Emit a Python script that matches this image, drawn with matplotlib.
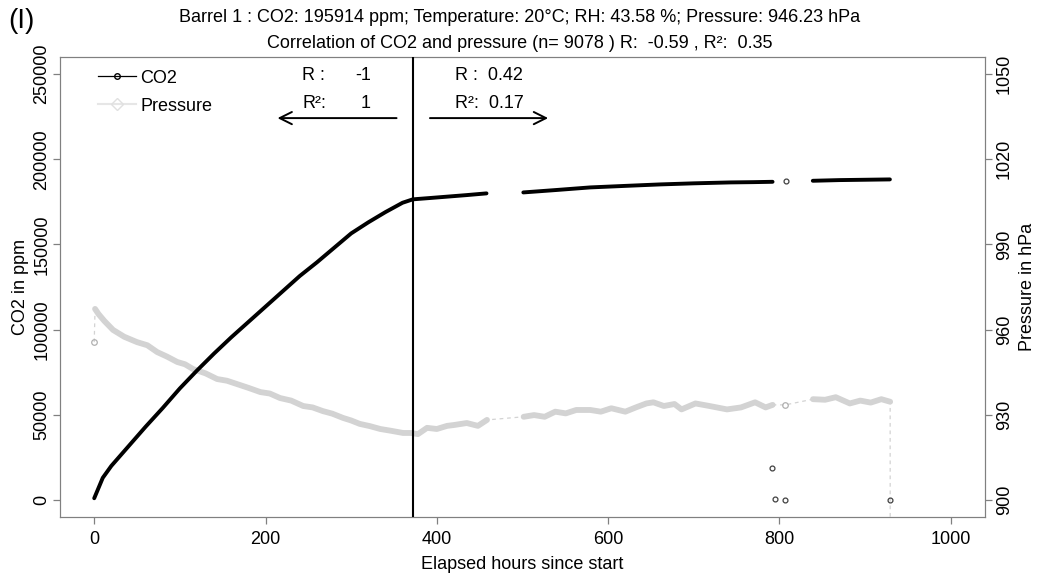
import matplotlib
matplotlib.use("Agg")
import matplotlib.pyplot as plt
import numpy as np
from matplotlib.lines import Line2D

plt.rcParams["font.family"] = ["Liberation Sans", "DejaVu Sans"]

# CO2 logger (hours since start, ppm); NaN marks logging gaps
co2_hours = [0, 10, 20, 40, 60, 80, 100, 120, 140, 160, 180, 200, 220, 240, 260,
             280, 300, 320, 340, 360, 372, 390, 410, 435, 458,
             np.nan,
             501, 540, 579, 620, 661, 700, 743, 770, 792,
             np.nan,
             839, 870, 900, 929]
co2_ppm = [1000, 13000, 20000, 31500, 43000, 54000, 65500, 76000, 86000, 95500,
           104500, 113500, 122500, 131500, 139500, 148000, 156500, 163000, 169000,
           174500, 176500, 177200, 178000, 179000, 180000,
           np.nan,
           180560, 182000, 183500, 184400, 185270, 185900, 186440, 186600, 186800,
           np.nan,
           187400, 187800, 188000, 188200]

# isolated CO2 readings
co2_stray_hours = [791, 795, 807.5, 807, 929]
co2_stray_ppm = [19000, 800, 187400, 0, 0]

# pressure (hours since start, hPa); NaN marks gaps (bridged by a dashed line)
pressure_hours = [0,
                  np.nan,
                  1, 5, 12, 22, 35, 50, 62, 73.5, 85, 97, 106, 115.5, 130, 143.5,
                  155, 167, 180, 194, 205, 217, 230, 244, 255, 267, 278, 290.5,
                  300, 310, 322, 334, 346, 360.6, 370, 378, 388.6, 400, 412, 420,
                  435, 448, 458.6,
                  np.nan,
                  501.4, 513.6, 525.9, 538.3, 550.5, 562.8, 579.2, 591.5, 603.7,
                  620.1, 632.4, 644.7, 652.9, 665.1, 677.5, 685.7, 702.0, 718.3,
                  738.8, 755.2, 771.6, 783.9, 792.1,
                  np.nan,
                  807,
                  np.nan,
                  839.2, 853.4, 865.8, 882.2, 894.4, 906.6, 919.0, 929.3,
                  np.nan,
                  930]
pressure_hpa = [955.6,
                np.nan,
                967.3, 965.5, 963.0, 959.9, 957.5, 955.6, 954.5, 952.1, 950.5,
                948.6, 947.8, 946.1, 944.6, 942.6, 942.0, 940.8, 939.5, 938.0,
                937.5, 935.9, 935.0, 933.1, 932.6, 931.3, 930.4, 928.9, 928.0,
                926.8, 926.0, 925.0, 924.4, 923.6, 923.6, 923.2, 925.4, 925.0,
                926.1, 926.4, 927.1, 926.1, 928.2,
                np.nan,
                929.3, 929.9, 929.3, 931.1, 930.5, 931.7, 931.7, 931.1, 932.3,
                931.1, 932.6, 934.0, 934.4, 933.1, 933.8, 931.9, 934.0, 933.1,
                931.9, 932.6, 934.4, 932.6, 933.5,
                np.nan,
                933.5,
                np.nan,
                935.5, 935.3, 936.2, 934.0, 935.0, 934.3, 935.5, 934.6,
                np.nan,
                0]

split_hour = 372
r_left = ("-1", "1")
r_right = ("0.42", "0.17")
title_lines = [
    "Barrel 1 : CO2: 195914 ppm; Temperature: 20°C; RH: 43.58 %; Pressure: 946.23 hPa",
    "Correlation of CO2 and pressure (n= 9078 ) R:  -0.59 , R²:  0.35",
]

FS = 13
PGRAY = "#d3d3d3"
AXGRAY = "#808080"

fig = plt.figure(figsize=(10.39, 5.77), dpi=100)
ax = fig.add_axes([0.0577, 0.104, 0.8903, 0.797])
ax2 = ax.twinx()

# pressure: dashed bridge through everything, thick trace on continuous runs
ph = np.array(pressure_hours, dtype=float)
pv = np.array(pressure_hpa, dtype=float)
ok = ~np.isnan(ph)
ax2.plot(ph[ok], pv[ok], color=PGRAY, lw=0.9, ls=(0, (3, 3)), zorder=1)
ax2.plot(ph, pv, color=PGRAY, lw=4.2, solid_capstyle="round", zorder=2)
for i in range(len(ph)):
    if ok[i]:
        prev_nan = i == 0 or not ok[i - 1]
        next_nan = i == len(ph) - 1 or not ok[i + 1]
        if prev_nan and next_nan:
            ax2.plot(ph[i], pv[i], "o", ms=4, mfc="none", mec="#b0b0b0", mew=0.9)
ax2.set_ylim(894, 1056)

# CO2
ax.plot(co2_hours, co2_ppm, color="black", lw=2.8, solid_capstyle="round", zorder=3)
ax.plot(co2_stray_hours, co2_stray_ppm, "o", ms=3.5, mfc="none", mec="#404040",
        mew=0.9, zorder=3)
ax.set_zorder(ax2.get_zorder() + 1)
ax.patch.set_visible(False)

ax.axvline(split_hour, color="black", lw=1.5, zorder=4)

ax.set_xlim(-40, 1040)
ax.set_ylim(-10000, 260000)
ax.set_xticks([0, 200, 400, 600, 800, 1000])
ax.set_yticks([0, 50000, 100000, 150000, 200000, 250000])
ax2.set_yticks([900, 930, 960, 990, 1020, 1050])

for a in (ax, ax2):
    for s in a.spines.values():
        s.set_color(AXGRAY)
    a.tick_params(colors=AXGRAY, labelcolor="black", length=5, width=0.9,
                  labelsize=FS)
ax.tick_params(axis="x", pad=5)
ax.tick_params(axis="y", pad=2)
ax2.tick_params(axis="y", pad=3)
for lab in ax.get_yticklabels() + ax2.get_yticklabels():
    lab.set_rotation(90)
    lab.set_va("center")

ax.set_xlabel("Elapsed hours since start", fontsize=FS, labelpad=6)
ax.set_ylabel("CO2 in ppm", fontsize=FS, labelpad=3)
ax2.set_ylabel("Pressure in hPa", fontsize=FS, labelpad=4, rotation=90)

# legend
handles = [
    Line2D([], [], color="black", lw=0.9, marker="o", ms=4, mfc="none", mec="black"),
    Line2D([], [], color="#e6e6e6", lw=1.5, marker="D", ms=6, mfc="none", mec="#e0e0e0"),
]
ax.legend(handles, ["CO2", "Pressure"], loc="upper left", bbox_to_anchor=(0.028, 1.0),
          frameon=False, fontsize=FS, handlelength=2.05, handletextpad=0.25,
          labelspacing=0.6, borderaxespad=0.3)

# correlation annotations either side of the split
ax.text(243, 249500, "R :", fontsize=FS, va="center", ha="left")
ax.text(323, 249500, r_left[0], fontsize=FS, va="center", ha="right")
ax.text(243, 233000, "R²:", fontsize=FS, va="center", ha="left")
ax.text(323, 233000, r_left[1], fontsize=FS, va="center", ha="right")
ax.text(421, 249500, "R :  " + r_right[0], fontsize=FS, va="center", ha="left")
ax.text(421, 233000, "R²:  " + r_right[1], fontsize=FS, va="center", ha="left")
ax.annotate("", xy=(214, 224200), xytext=(353, 224200),
            arrowprops=dict(arrowstyle="->", lw=1.4, color="black",
                            mutation_scale=22, shrinkA=0, shrinkB=0))
ax.annotate("", xy=(530, 224200), xytext=(392, 224200),
            arrowprops=dict(arrowstyle="->", lw=1.4, color="black",
                            mutation_scale=22, shrinkA=0, shrinkB=0))

fig.text(0.5, 1 - 17 / 577, title_lines[0], ha="center", va="center", fontsize=FS)
fig.text(0.5, 1 - 43 / 577, title_lines[1], ha="center", va="center", fontsize=FS)
fig.text(8 / 1039, 1 - 21 / 577, "(I)", ha="left", va="center", fontsize=20)

fig.savefig("out.png", dpi=100)
